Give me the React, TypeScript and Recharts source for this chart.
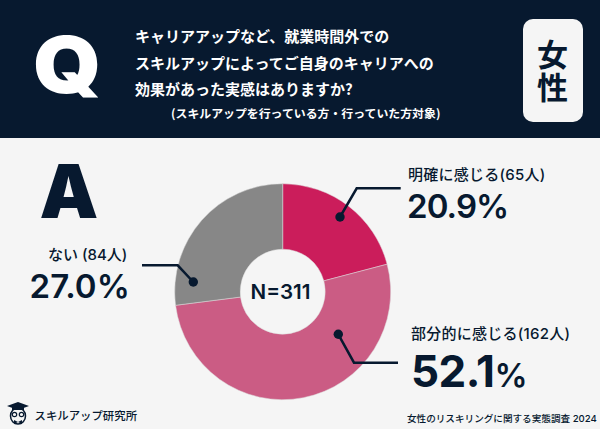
import { PieChart, Pie, Cell } from 'recharts'

const categories = ['明確に感じる', '部分的に感じる', 'ない']
const counts = [65, 162, 84]
const colors = ['#cb1d5b', '#cb5c84', '#878787']
const questionLines = [
  'キャリアアップなど、就業時間外での',
  'スキルアップによってご自身のキャリアへの',
  '効果があった実感はありますか?',
]

const data = categories.map((name, i) => ({ name, value: counts[i] }))

const navy = '#07192f'
const jp = '"Noto Sans CJK JP", "Noto Sans", sans-serif'
const latin = 'Inter, "Noto Sans CJK JP", sans-serif'

function Text({ x, y, size, weight = 700, color = navy, font = jp, children, spacing = 0, stretch = 1, vertical = false }: any) {
  return (
    <div
      style={{
        position: 'absolute',
        left: x,
        top: y,
        fontSize: size,
        fontWeight: weight,
        color,
        fontFamily: font,
        lineHeight: 1,
        whiteSpace: 'nowrap',
        letterSpacing: spacing,
        writingMode: vertical ? 'vertical-rl' : undefined,
        transform: stretch === 1 ? undefined : `scaleX(${stretch})`,
        transformOrigin: 'left',
      }}
    >
      {children}
    </div>
  )
}

function Leader({ points }: { points: number[][] }) {
  return (
    <g>
      <polyline
        points={points.map((p) => p.join(',')).join(' ')}
        fill="none"
        stroke={navy}
        strokeWidth={2.5}
      />
      <circle cx={points[0][0]} cy={points[0][1]} r={4.7} fill={navy} />
    </g>
  )
}

export default function App() {
  return (
    <div
      style={{
        position: 'absolute',
        left: 0,
        top: 0,
        width: 600,
        height: 429,
        background: '#f5f5f5',
        overflow: 'hidden',
      }}
    >
      <div style={{ position: 'absolute', left: 0, top: 0, width: 600, height: 138, background: navy }} />

      <Text x={33} y={26} size={78} weight={900} color="#fff" font={latin} stretch={1.11}>Q</Text>
      {questionLines.map((line, i) => (
        <Text key={line} x={135} y={28 + i * 26.5} size={15} color="#fff">{line}</Text>
      ))}
      <Text x={171} y={107} size={11.9} color="#fff">(スキルアップを行っている方・行っていた方対象)</Text>

      <div
        style={{
          position: 'absolute',
          left: 523,
          top: 19,
          width: 60,
          height: 103,
          borderRadius: 10,
          background: '#f5f5f5',
        }}
      />
      <Text x={537} y={39} size={31} spacing={1.5} vertical>女性</Text>

      <Text x={39.5} y={154} size={74} weight={900} font={latin}>A</Text>

      <div style={{ position: 'absolute', left: 0, top: 0 }}>
        <PieChart width={600} height={429} margin={{ top: 0, right: 0, bottom: 0, left: 0 }}>
          <Pie
            data={data}
            dataKey="value"
            cx={282.7}
            cy={291.7}
            innerRadius={42.5}
            outerRadius={108}
            startAngle={90}
            endAngle={-270}
            stroke="#dcdcdc"
            strokeWidth={0.5}
            isAnimationActive={false}
          >
            {data.map((d, i) => (
              <Cell key={d.name} fill={colors[i]} />
            ))}
          </Pie>
        </PieChart>
      </div>

      <svg width={600} height={429} style={{ position: 'absolute', left: 0, top: 0 }}>
        <Leader points={[[340, 217], [356.7, 188.3], [400.7, 188.3]]} />
        <Leader points={[[338.3, 334.3], [354, 362.7], [398, 362.7]]} />
        <Leader points={[[193.3, 282], [177.7, 265.3], [142, 265.3]]} />
      </svg>

      <Text x={250.5} y={282} size={20.6} weight={600} font={latin}>N=311</Text>

      <Text x={408} y={167} size={15} weight={500} font={latin} spacing={0.25}>{`${categories[0]}(${counts[0]}人)`}</Text>
      <Text x={407} y={189.5} size={33} weight={600} font={latin} spacing={-0.9}>20.9%</Text>

      <Text x={411} y={325.5} size={15} weight={500} font={latin} spacing={0.25}>{`${categories[1]}(${counts[1]}人)`}</Text>
      <Text x={411} y={349} size={44} weight={700} font={latin} spacing={-0.5}>
        52.1<span style={{ fontSize: 33, fontWeight: 600 }}>%</span>
      </Text>

      <Text x={48} y={246.5} size={15} weight={500} font={latin}>{`${categories[2]} (${counts[2]}人)`}</Text>
      <Text x={29.5} y={269.5} size={33} weight={600} font={latin} spacing={0.1}>27.0%</Text>

      <Text x={34.5} y={410} size={11.4} weight={500}>スキルアップ研究所</Text>
      <Text x={407} y={414} size={9.6} weight={500} font={latin}>女性のリスキリングに関する実態調査 2024</Text>

      <svg width={40} height={34} style={{ position: 'absolute', left: 0, top: 395 }}>
        <polygon points="7,11 18,7 29,11 18,15" fill={navy} />
        <rect x={12} y={12} width={12} height={3} fill={navy} />
        <ellipse cx={18} cy={21} rx={7.5} ry={8} fill="none" stroke={navy} strokeWidth={1.5} />
        <circle cx={14.5} cy={19.5} r={2.2} fill="none" stroke={navy} strokeWidth={1.2} />
        <circle cx={21.5} cy={19.5} r={2.2} fill="none" stroke={navy} strokeWidth={1.2} />
        <polygon points="14,25 18,27 22,25 22,29 18,27 14,29" fill={navy} />
      </svg>
    </div>
  )
}
